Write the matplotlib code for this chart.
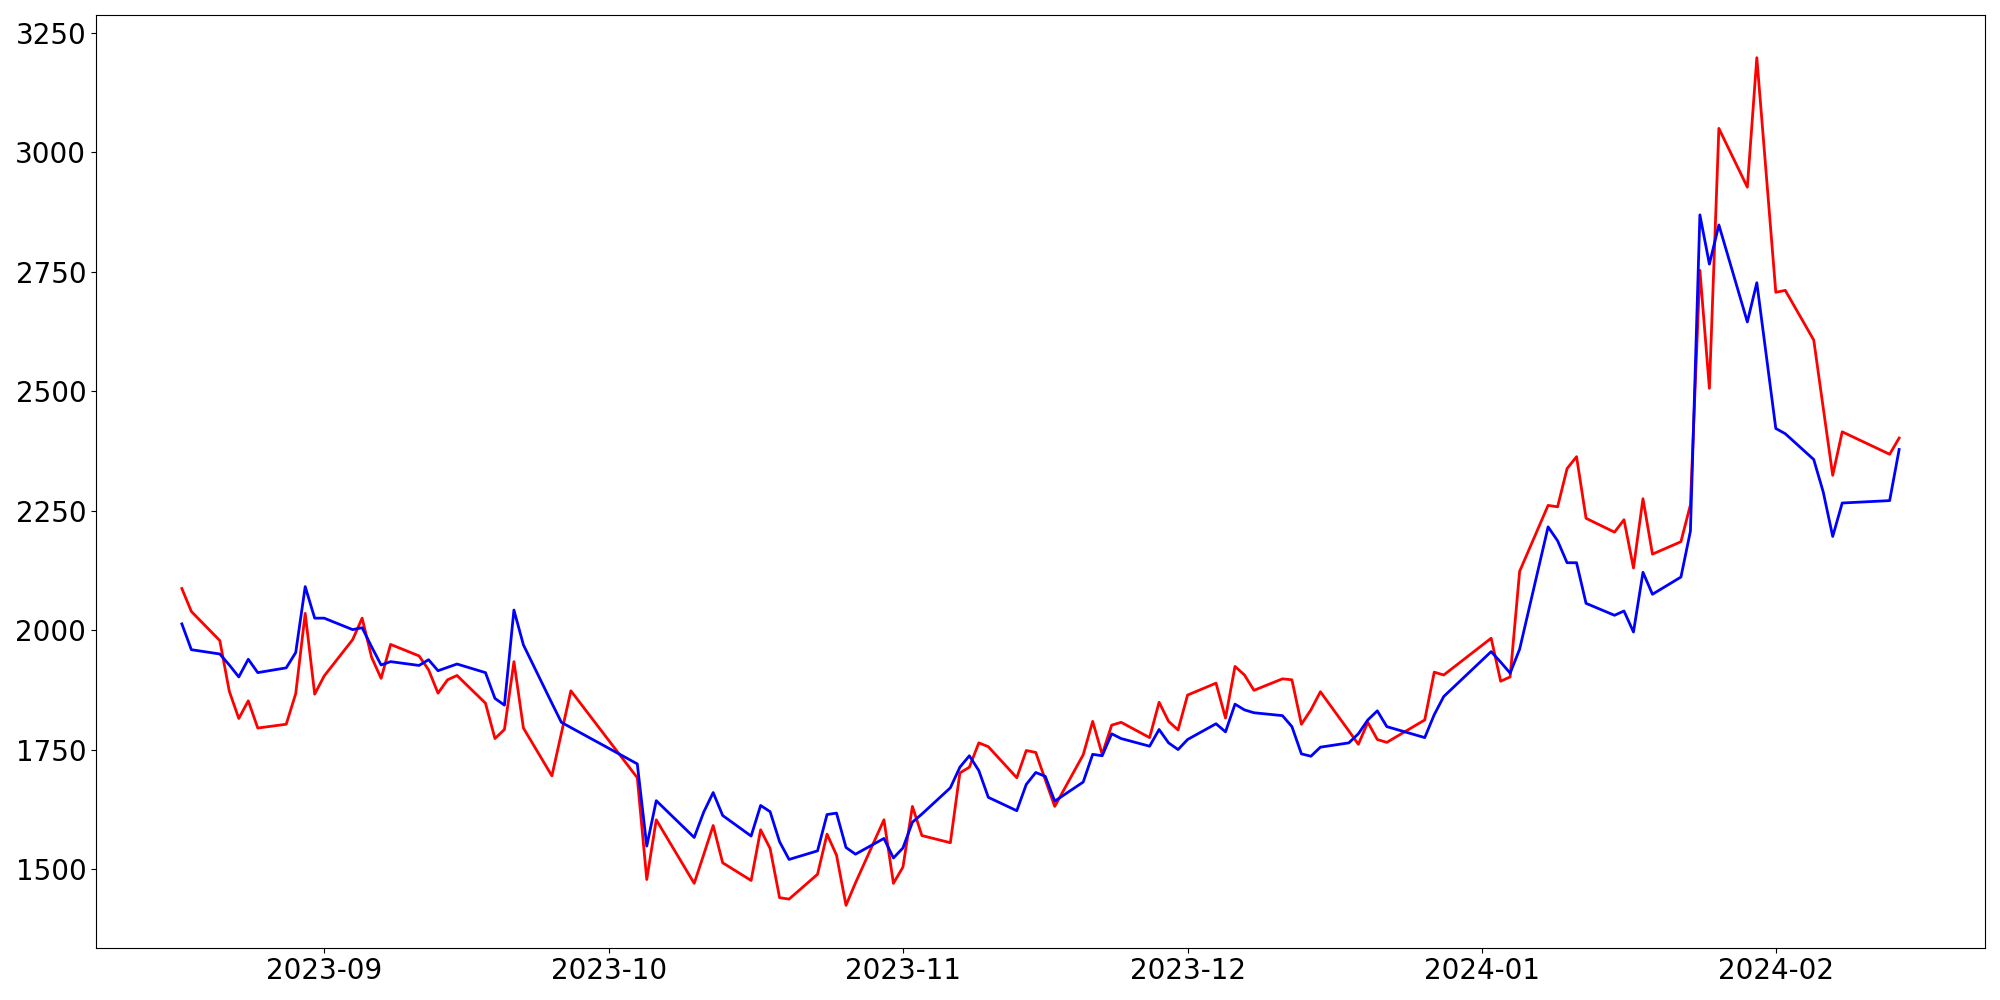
import matplotlib
matplotlib.use("Agg")
import matplotlib.pyplot as plt
import pandas as pd

dates = [
    "2023-08-17", "2023-08-18", "2023-08-21", "2023-08-22", "2023-08-23", "2023-08-24", "2023-08-25",
    "2023-08-28", "2023-08-29", "2023-08-30", "2023-08-31", "2023-09-01",
    "2023-09-04", "2023-09-05", "2023-09-06", "2023-09-07", "2023-09-08",
    "2023-09-11", "2023-09-12", "2023-09-13", "2023-09-14", "2023-09-15",
    "2023-09-18", "2023-09-19", "2023-09-20", "2023-09-21", "2023-09-22",
    "2023-09-25", "2023-09-26", "2023-09-27",
    "2023-10-04", "2023-10-05", "2023-10-06",
    "2023-10-10", "2023-10-11", "2023-10-12", "2023-10-13",
    "2023-10-16", "2023-10-17", "2023-10-18", "2023-10-19", "2023-10-20",
    "2023-10-23", "2023-10-24", "2023-10-25", "2023-10-26", "2023-10-27",
    "2023-10-30", "2023-10-31", "2023-11-01", "2023-11-02", "2023-11-03",
    "2023-11-06", "2023-11-07", "2023-11-08", "2023-11-09", "2023-11-10",
    "2023-11-13", "2023-11-14", "2023-11-15", "2023-11-16", "2023-11-17",
    "2023-11-20", "2023-11-21", "2023-11-22", "2023-11-23", "2023-11-24",
    "2023-11-27", "2023-11-28", "2023-11-29", "2023-11-30", "2023-12-01",
    "2023-12-04", "2023-12-05", "2023-12-06", "2023-12-07", "2023-12-08",
    "2023-12-11", "2023-12-12", "2023-12-13", "2023-12-14", "2023-12-15",
    "2023-12-18", "2023-12-19", "2023-12-20", "2023-12-21", "2023-12-22",
    "2023-12-26", "2023-12-27", "2023-12-28",
    "2024-01-02", "2024-01-03", "2024-01-04", "2024-01-05",
    "2024-01-08", "2024-01-09", "2024-01-10", "2024-01-11", "2024-01-12",
    "2024-01-15", "2024-01-16", "2024-01-17", "2024-01-18", "2024-01-19",
    "2024-01-22", "2024-01-23", "2024-01-24", "2024-01-25", "2024-01-26",
    "2024-01-29", "2024-01-30",
    "2024-02-01", "2024-02-02",
    "2024-02-05", "2024-02-06", "2024-02-07", "2024-02-08",
    "2024-02-13", "2024-02-14",
]

red_values = [
    2087, 2039, 1978, 1872, 1815, 1852, 1795,
    1803, 1867, 2035, 1866, 1904,
    1980, 2025, 1943, 1899, 1970,
    1946, 1917, 1868, 1896, 1905,
    1847, 1773, 1792, 1934, 1795,
    1695, 1784, 1873,
    1691, 1478, 1603,
    1470, 1530, 1591, 1513,
    1476, 1582, 1543, 1440, 1437,
    1489, 1573, 1529, 1424, 1471,
    1603, 1470, 1504, 1631, 1570,
    1555, 1701, 1713, 1764, 1756,
    1691, 1748, 1744, 1687, 1631,
    1739, 1809, 1740, 1801, 1807,
    1775, 1849, 1809, 1791, 1864,
    1889, 1816, 1924, 1906, 1874,
    1898, 1896, 1803, 1833, 1871,
    1789, 1761, 1807, 1771, 1765,
    1812, 1912, 1906,
    1983, 1893, 1902, 2123,
    2261, 2258, 2338, 2363, 2234,
    2205, 2231, 2130, 2275, 2159,
    2185, 2262, 2753, 2506, 3050,
    2927, 3198,
    2707, 2711,
    2607, 2465, 2324, 2415,
    2368, 2402,
]

blue_values = [
    2013, 1959, 1950, 1927, 1902, 1939, 1911,
    1921, 1953, 2091, 2025, 2025,
    2001, 2005, 1965, 1927, 1934,
    1926, 1938, 1915, 1922, 1929,
    1911, 1857, 1843, 2042, 1969,
    1847, 1807, 1796,
    1720, 1548, 1643,
    1566, 1619, 1660, 1612,
    1569, 1633, 1620, 1557, 1520,
    1538, 1614, 1617, 1545, 1531,
    1564, 1523, 1544, 1598, 1615,
    1670, 1713, 1737, 1706, 1650,
    1622, 1677, 1702, 1694, 1642,
    1682, 1740, 1737, 1783, 1773,
    1757, 1792, 1764, 1750, 1771,
    1804, 1787, 1845, 1833, 1827,
    1821, 1798, 1741, 1736, 1755,
    1764, 1783, 1812, 1831, 1798,
    1775, 1823, 1861,
    1955, 1933, 1910, 1960,
    2216, 2187, 2141, 2141, 2056,
    2031, 2040, 1996, 2121, 2075,
    2111, 2207, 2869, 2766, 2848,
    2645, 2727,
    2422, 2411,
    2357, 2289, 2196, 2266,
    2271, 2378,
]

x = pd.to_datetime(dates)

fig = plt.figure(figsize=(20, 10), dpi=100)
ax = fig.add_axes([0.048, 0.0523, 0.9445, 0.9324])
ax.plot(x, red_values, color="red", linewidth=2)
ax.plot(x, blue_values, color="blue", linewidth=2)
ax.tick_params(axis="both", labelsize=20)

fig.savefig("out.png", dpi=100)
